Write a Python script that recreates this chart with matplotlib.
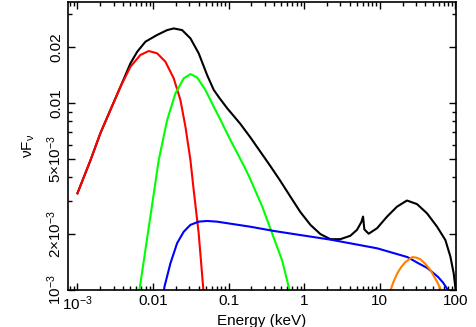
import matplotlib
matplotlib.use("Agg")
import matplotlib.pyplot as plt
from matplotlib.ticker import FixedLocator, NullFormatter

plt.rcParams["font.family"] = ["Liberation Sans", "DejaVu Sans"]
plt.rcParams["mathtext.fontset"] = "custom"
plt.rcParams["mathtext.rm"] = "Liberation Sans"
plt.rcParams["mathtext.default"] = "regular"

# Model components (energy in keV, nuFnu)
red_e = [1e-3, 1.49e-3, 2.01e-3, 2.73e-3, 3.71e-3, 5.02e-3, 6.81e-3, 8.77e-3,
         0.01132, 0.01459, 0.01879, 0.02303, 0.02685, 0.03126, 0.0345, 0.0402,
         0.0460, 0.0469]
red_f = [3.29e-3, 4.95e-3, 6.89e-3, 9.18e-3, 0.01222, 0.01563, 0.01808, 0.01897,
         0.01845, 0.01663, 0.01355, 0.01038, 7.46e-3, 4.95e-3, 3.43e-3, 2.01e-3,
         1.04e-3, 9.5e-4]

green_e = [6.5e-3, 6.61e-3, 9.25e-3, 0.01189, 0.01537, 0.01978, 0.02547, 0.03126,
           0.0383, 0.0493, 0.0636, 0.0763, 0.1056, 0.152, 0.185, 0.280, 0.376,
           0.510, 0.624, 0.637]
green_f = [9.6e-4, 1.0e-3, 2.49e-3, 4.95e-3, 8.11e-3, 0.01127, 0.01355, 0.01428,
           0.01371, 0.01175, 9.55e-3, 8.28e-3, 6.34e-3, 4.79e-3, 4.08e-3, 2.78e-3,
           2.01e-3, 1.44e-3, 1.04e-3, 9.75e-4]

blue_e = [0.01387, 0.01416, 0.0170, 0.02083, 0.02547, 0.03126, 0.0402, 0.0519,
          0.0705, 0.194, 0.395, 0.871, 2.22, 9.29, 23.2, 31.4, 42.7, 59.6, 69.4,
          78.3, 80.7]
blue_f = [9.75e-4, 1.04e-3, 1.39e-3, 1.78e-3, 2.05e-3, 2.23e-3, 2.32e-3, 2.34e-3,
          2.32e-3, 2.18e-3, 2.07e-3, 1.97e-3, 1.86e-3, 1.67e-3, 1.50e-3, 1.40e-3,
          1.31e-3, 1.17e-3, 1.09e-3, 1.01e-3, 9.75e-4]

orange_e = [13.8, 15.1, 17.1, 19.3, 21.8, 27.0, 30.5, 34.4, 40.1, 46.7, 57.8, 65.3]
orange_f = [9.9e-4, 1.10e-3, 1.23e-3, 1.33e-3, 1.41e-3, 1.50e-3, 1.49e-3, 1.46e-3,
            1.38e-3, 1.28e-3, 1.10e-3, 9.9e-4]

total_e = [1e-3, 1.49e-3, 2.01e-3, 2.73e-3, 3.71e-3, 5.02e-3, 6.17e-3, 7.93e-3,
           0.01132, 0.01537, 0.01879, 0.02425, 0.03126, 0.0402, 0.0519, 0.0636,
           0.0763, 0.0955, 0.1432, 0.194, 0.277, 0.357, 0.484, 0.656, 0.891, 1.21,
           1.64, 2.22, 3.01, 4.08, 5.01, 5.71, 6.01, 6.25, 7.13, 9.21, 12.5, 16.9,
           22.9, 31.1, 42.2, 57.3, 73.8, 85.9, 95.0, 101.0, 102.0]
total_f = [3.29e-3, 4.95e-3, 6.89e-3, 9.18e-3, 0.01222, 0.01629, 0.01879, 0.02128,
           0.02312, 0.02455, 0.02506, 0.02455, 0.02218, 0.01845, 0.01413, 0.01175,
           0.01059, 9.39e-3, 7.73e-3, 6.55e-3, 5.33e-3, 4.60e-3, 3.83e-3, 3.16e-3,
           2.61e-3, 2.23e-3, 1.99e-3, 1.87e-3, 1.87e-3, 1.95e-3, 2.10e-3, 2.31e-3,
           2.47e-3, 2.11e-3, 2.00e-3, 2.14e-3, 2.47e-3, 2.79e-3, 3.01e-3, 2.88e-3,
           2.57e-3, 2.18e-3, 1.85e-3, 1.51e-3, 1.23e-3, 1.0e-3, 9.5e-4]

x_ticks = [1e-3, 0.01, 0.1, 1, 10, 100]
x_labels = ["10$^{-3}$", "0.01", "0.1", "1", "10", "100"]
y_ticks = [1e-3, 2e-3, 5e-3, 0.01, 0.02]
y_labels = ["10$^{-3}$", "2\u00d710$^{-3}$", "5\u00d710$^{-3}$", "0.01", "0.02"]

fig = plt.figure(figsize=(4.76, 3.27), dpi=100)
ax = fig.add_axes([68 / 476, 1 - 290 / 327, 388 / 476, 288 / 327])

lw = 1.5
ax.plot(total_e, total_f, color="black", lw=lw)
ax.plot(red_e, red_f, color="#ff0000", lw=lw)
ax.plot(green_e, green_f, color="#00ff00", lw=lw)
ax.plot(blue_e, blue_f, color="#0000ff", lw=lw)
ax.plot(orange_e, orange_f, color="#ff8000", lw=lw)

ax.set_xscale("log")
ax.set_yscale("log")
ax.set_xlim(7.5e-4, 102)
ax.set_ylim(1e-3, 0.0347)

ax.xaxis.set_major_locator(FixedLocator(x_ticks))
ax.set_xticklabels(x_labels, fontsize=11)
ax.yaxis.set_major_locator(FixedLocator(y_ticks))
ax.set_yticklabels(y_labels, fontsize=11, rotation=90, va="center")
ax.yaxis.set_minor_locator(FixedLocator([3e-3, 4e-3, 6e-3, 7e-3, 8e-3, 9e-3, 0.03]))
ax.xaxis.set_minor_formatter(NullFormatter())
ax.yaxis.set_minor_formatter(NullFormatter())

ax.tick_params(which="both", direction="in", top=True, right=True, width=1.0)
ax.tick_params(which="major", length=5, pad=3)
ax.tick_params(which="minor", length=3)
for s in ax.spines.values():
    s.set_linewidth(1.2)

ax.set_xlabel("Energy (keV)", fontsize=11, labelpad=1)
ax.set_ylabel("\u03bdF$_{\u03bd}$", fontsize=11, labelpad=6)

fig.savefig("out.png", dpi=100)
